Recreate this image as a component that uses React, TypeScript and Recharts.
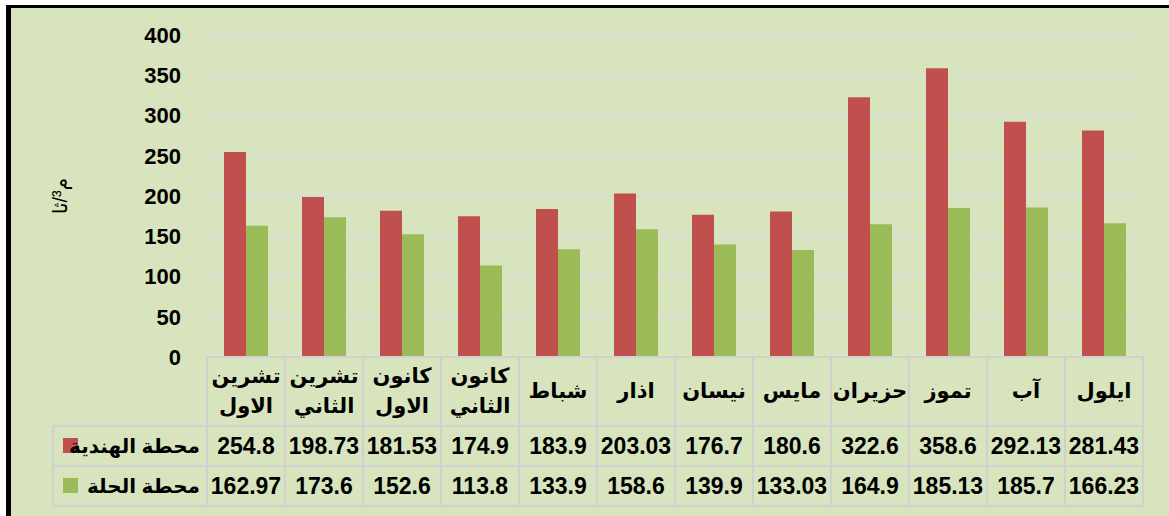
import { BarChart, Bar, XAxis, YAxis, CartesianGrid } from 'recharts'

const categories = [
  'تشرين الاول', 'تشرين الثاني', 'كانون الاول', 'كانون الثاني', 'شباط', 'اذار',
  'نيسان', 'مايس', 'حزيران', 'تموز', 'آب', 'ايلول',
]
const hindiyaLabels = ['254.8', '198.73', '181.53', '174.9', '183.9', '203.03', '176.7', '180.6', '322.6', '358.6', '292.13', '281.43']
const hillaLabels = ['162.97', '173.6', '152.6', '113.8', '133.9', '158.6', '139.9', '133.03', '164.9', '185.13', '185.7', '166.23']
const hindiya = hindiyaLabels.map(Number)
const hilla = hillaLabels.map(Number)
const yTicks = [0, 50, 100, 150, 200, 250, 300, 350, 400]
const seriesNames = ['محطة الهندية', 'محطة الحلة']
const yUnit = 'م³/ثا'

const RED = '#c0504d'
const GREEN = '#9bbb59'
const BG = '#d7e4bd'
const LINE = '#d0d0d0'
const FONT = '"Liberation Sans", "DejaVu Sans", sans-serif'

const W = 1169
const H = 516
const PLOT_LEFT = 207
const PLOT_RIGHT = 1143
const COL_W = (PLOT_RIGHT - PLOT_LEFT) / categories.length

const data = categories.map((c, i) => ({ name: c, hindiya: hindiya[i], hilla: hilla[i] }))

function TableTick(props: any) {
  const { x, y, index } = props
  const left = x - COL_W / 2
  const lines = categories[index].split(' ')
  const headH = 69
  const rowH = 40
  return (
    <g>
      <rect x={left} y={y} width={COL_W} height={headH + rowH * 2} fill="none" stroke={LINE} strokeWidth={2} />
      <line x1={left} x2={left + COL_W} y1={y + headH} y2={y + headH} stroke={LINE} strokeWidth={2} />
      <line x1={left} x2={left + COL_W} y1={y + headH + rowH} y2={y + headH + rowH} stroke={LINE} strokeWidth={2} />
      {lines.length === 2 ? (
        <>
          <text x={x} y={y + 26} textAnchor="middle" fontSize={21} fontWeight="bold" fill="#000" fontFamily={FONT}>{lines[0]}</text>
          <text x={x} y={y + 56} textAnchor="middle" fontSize={21} fontWeight="bold" fill="#000" fontFamily={FONT}>{lines[1]}</text>
        </>
      ) : (
        <text x={x} y={y + 41} textAnchor="middle" fontSize={21} fontWeight="bold" fill="#000" fontFamily={FONT}>{lines[0]}</text>
      )}
      <text x={x} y={y + headH + 28} textAnchor="middle" fontSize={23} fontWeight="bold" fill="#000" fontFamily={FONT}>{hindiyaLabels[index]}</text>
      <text x={x} y={y + headH + rowH + 28} textAnchor="middle" fontSize={23} fontWeight="bold" fill="#000" fontFamily={FONT}>{hillaLabels[index]}</text>
      {index === 0 && (
        <g>
          <rect x={53} y={y + headH} width={left - 53} height={rowH * 2} fill="none" stroke={LINE} strokeWidth={2} />
          <line x1={53} x2={left} y1={y + headH + rowH} y2={y + headH + rowH} stroke={LINE} strokeWidth={2} />
          <rect x={63} y={y + headH + 12} width={15} height={15} fill={RED} />
          <rect x={63} y={y + headH + rowH + 12} width={15} height={15} fill={GREEN} />
          <text x={200} y={y + headH + 27} textAnchor="end" fontSize={20} fontWeight="bold" fill="#000" fontFamily={FONT}>{seriesNames[0]}</text>
          <text x={200} y={y + headH + rowH + 27} textAnchor="end" fontSize={20} fontWeight="bold" fill="#000" fontFamily={FONT}>{seriesNames[1]}</text>
        </g>
      )}
    </g>
  )
}

function UnitLabel(props: any) {
  const vb = props.viewBox || {}
  const cx = 60
  const cy = (vb.y ?? 35) + (vb.height ?? 322) / 2
  return (
    <text x={cx} y={cy} transform={`rotate(-90 ${cx} ${cy})`} textAnchor="middle"
      dominantBaseline="central" fontSize={20} fill="#000" fontFamily={FONT}>{yUnit}</text>
  )
}

export default function App() {
  return (
    <div style={{ position: 'fixed', left: 0, top: 0, width: W, height: H, background: '#fff' }}>
      <div style={{
        position: 'absolute', left: 6, top: 5, right: 0, bottom: 0,
        background: BG, borderTop: '3px solid #000', borderLeft: '5px solid #000',
      }} />
      <div style={{ position: 'absolute', left: 0, top: 0 }}>
        <BarChart width={W} height={H} data={data} barGap={0}
          margin={{ top: 35, right: W - PLOT_RIGHT, bottom: 11, left: 10 }}>
          <CartesianGrid vertical={false} stroke="#d9d9d9" strokeWidth={2} />
          <XAxis dataKey="name" interval={0} height={148} axisLine={false} tickLine={false}
            tickSize={0} tickMargin={0} tick={<TableTick />} />
          <YAxis domain={[0, 400]} ticks={yTicks} width={PLOT_LEFT - 10} axisLine={false} tickLine={false}
            tickSize={0} tickMargin={26}
            tick={{ fontSize: 22, fontWeight: 'bold', fill: '#000', fontFamily: FONT }}
            label={<UnitLabel />} />
          <Bar dataKey="hindiya" name={seriesNames[0]} fill={RED} barSize={22} isAnimationActive={false} />
          <Bar dataKey="hilla" name={seriesNames[1]} fill={GREEN} barSize={22} isAnimationActive={false} />
        </BarChart>
      </div>
    </div>
  )
}
